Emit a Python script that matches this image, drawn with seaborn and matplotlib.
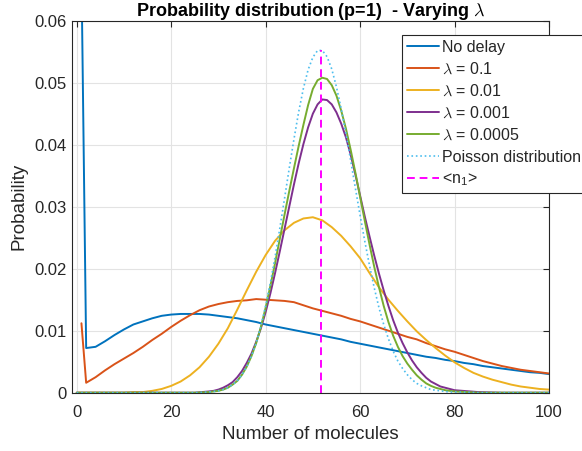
import numpy as np
import pandas as pd
import matplotlib
matplotlib.use("Agg")
import matplotlib.pyplot as plt
import seaborn as sns

# ---------------- data ----------------
# no delay / lambda = 0.1 : x = 1, 2, 4, 6, ..., 100
x_wide = [1, 2] + list(range(4, 101, 2))
p_nodelay = [0.068, 0.0072, 0.0074, 0.0083, 0.0093, 0.0102, 0.0110, 0.0115, 0.0120, 0.0124,
             0.0126, 0.0127, 0.0127, 0.0127, 0.0126, 0.0124, 0.0122, 0.0120, 0.0117, 0.0114,
             0.0110, 0.0107, 0.0104, 0.0101, 0.0098, 0.0095, 0.0092, 0.0089, 0.0086, 0.0082,
             0.0079, 0.0076, 0.0073, 0.0070, 0.0067, 0.0064, 0.0061, 0.0058, 0.0056, 0.0053,
             0.0051, 0.0048, 0.0046, 0.0043, 0.0041, 0.0039, 0.0037, 0.0035, 0.0033, 0.0032,
             0.0030]
p_lam01 = [0.0112, 0.0016, 0.0025, 0.0036, 0.0046, 0.0055, 0.0064, 0.0074, 0.0085, 0.0095,
           0.0106, 0.0116, 0.0125, 0.0133, 0.0139, 0.0143, 0.0146, 0.0148, 0.0149, 0.0151,
           0.0150, 0.0149, 0.0148, 0.0146, 0.0141, 0.0136, 0.0132, 0.0128, 0.0124, 0.0119,
           0.0115, 0.0110, 0.0105, 0.0100, 0.0095, 0.0090, 0.0086, 0.0080, 0.0075, 0.0070,
           0.0066, 0.0061, 0.0056, 0.0051, 0.0047, 0.0043, 0.0040, 0.0037, 0.0035, 0.0033,
           0.0031]

# lambda = 0.01 : x = 0, 2, ..., 100
x_even = list(range(0, 101, 2))
p_lam001 = [0, 0, 0, 0, 0, 0, 0.0001, 0.0001, 0.0003, 0.0006,
            0.0011, 0.0018, 0.0028, 0.0041, 0.0058, 0.0079, 0.0104, 0.0134, 0.0165, 0.0195,
            0.0222, 0.0245, 0.0262, 0.0274, 0.0281, 0.0283, 0.0278, 0.0267, 0.0253, 0.0236,
            0.0217, 0.0193, 0.0170, 0.0150, 0.0132, 0.0115, 0.0099, 0.0085, 0.0072, 0.0060,
            0.0049, 0.0040, 0.0032, 0.0026, 0.0021, 0.0017, 0.0013, 0.0010, 0.0008, 0.0006,
            0.0005]

# narrow curves : x = 0, 10, 20, 25, 28..80, 85, 90, 100
x_peak = [0, 10, 20, 25] + list(range(28, 81)) + [85, 90, 100]
p_lam0001 = [0, 0, 0, 0,
             0.0002, 0.0003, 0.0005, 0.0008, 0.0012, 0.0017, 0.0025, 0.0035, 0.0048, 0.0063,
             0.0082, 0.0104, 0.0130, 0.0160, 0.0193, 0.0228, 0.0264, 0.0300, 0.0336, 0.0370,
             0.0401, 0.0428, 0.0450, 0.0465, 0.0473, 0.0472, 0.0465, 0.0452, 0.0434, 0.0412,
             0.0384, 0.0352, 0.0318, 0.0284, 0.0252, 0.0221, 0.0192, 0.0165, 0.0140, 0.0117,
             0.0097, 0.0080, 0.0065, 0.0052, 0.0041, 0.0032, 0.0024, 0.0018, 0.0014, 0.0010,
             0.0008, 0.0006, 0.0004,
             0.0001, 0, 0]
p_lam00005 = [0, 0, 0, 0,
              0.0001, 0.0002, 0.0003, 0.0005, 0.0008, 0.0013, 0.0019, 0.0029, 0.0042, 0.0059,
              0.0080, 0.0106, 0.0137, 0.0172, 0.0209, 0.0248, 0.0287, 0.0325, 0.0362, 0.0398,
              0.0432, 0.0464, 0.0490, 0.0504, 0.0508, 0.0506, 0.0496, 0.0479, 0.0455, 0.0426,
              0.0392, 0.0355, 0.0316, 0.0277, 0.0239, 0.0203, 0.0170, 0.0140, 0.0114, 0.0092,
              0.0074, 0.0059, 0.0047, 0.0037, 0.0028, 0.0021, 0.0015, 0.0011, 0.0008, 0.0006,
              0.0004, 0.0003, 0.0002,
              0, 0, 0]
p_poisson = [0, 0, 0, 0,
             0.0001, 0.0002, 0.0003, 0.0005, 0.0008, 0.0013, 0.0019, 0.0029, 0.0042, 0.0059,
             0.0080, 0.0107, 0.0140, 0.0177, 0.0219, 0.0265, 0.0313, 0.0362, 0.0409, 0.0453,
             0.0491, 0.0521, 0.0541, 0.0552, 0.0552, 0.0542, 0.0522, 0.0493, 0.0458, 0.0418,
             0.0375, 0.0330, 0.0286, 0.0244, 0.0205, 0.0169, 0.0137, 0.0110, 0.0087, 0.0067,
             0.0051, 0.0039, 0.0029, 0.0021, 0.0015, 0.0011, 0.0008, 0.0005, 0.0004, 0.0003,
             0.0002, 0.0001, 0.0001,
             0, 0, 0]

n1_mean = 51.8

labels = ['No delay', r'$\lambda$ = 0.1', r'$\lambda$ = 0.01', r'$\lambda$ = 0.001',
          r'$\lambda$ = 0.0005', 'Poisson distribution', r'<n$\mathregular{_1}$>']
colors = ['#0072BD', '#D95319', '#EDB120', '#7E2F8E', '#77AC30', '#4DBEEE', '#FF00FF']

# ---------------- figure ----------------
sns.set_theme(style='whitegrid')
plt.rcParams['font.family'] = ['Liberation Sans', 'DejaVu Sans']
plt.rcParams['mathtext.fontset'] = 'cm'

fig = plt.figure(figsize=(5.82, 4.51), dpi=100)
ax = fig.add_axes([0.1237, 0.1293, 0.8196, 0.8248])

series = [(x_wide, p_nodelay), (x_wide, p_lam01), (x_even, p_lam001),
          (x_peak, p_lam0001), (x_peak, p_lam00005), (x_peak, p_poisson)]
for i, (xs, ys) in enumerate(series):
    df = pd.DataFrame({'n': xs, 'p': ys})
    sns.lineplot(data=df, x='n', y='p', ax=ax, color=colors[i], lw=1.4 if i < 5 else 1.2,
                 linestyle=':' if i == 5 else '-', label=labels[i], estimator=None, sort=False)

ax.plot([n1_mean, n1_mean], [0, max(p_poisson)], color=colors[6], lw=1.4,
        linestyle=(0, (4, 2.5)), label=labels[6])

ax.set_xlim(-1, 100)
ax.set_ylim(0, 0.06)
ax.set_xticks([0, 20, 40, 60, 80, 100])
ax.set_yticks([0, 0.01, 0.02, 0.03, 0.04, 0.05, 0.06])
ax.set_yticklabels(['0', '0.01', '0.02', '0.03', '0.04', '0.05', '0.06'])
ax.tick_params(axis='both', labelsize=12, colors='#262626', direction='in', length=4,
               width=0.8, top=True, right=True, pad=4)
ax.tick_params(axis='x', pad=9)
ax.grid(True, color='#E3E3E3', lw=0.8)
for s in ax.spines.values():
    s.set_color('#262626')
    s.set_linewidth(0.8)

ax.set_xlabel('Number of molecules', fontsize=13.5, color='#262626', labelpad=4)
ax.set_ylabel('Probability', fontsize=13.5, color='#262626', labelpad=5)
ax.set_title(r'Probability distribution (p=1)  - Varying $\lambda$', fontsize=13,
             fontweight='bold', color='black', pad=3.5)

leg = ax.legend(loc='upper left', bbox_to_anchor=(0.691, 0.923), bbox_transform=fig.transFigure,
                fontsize=11.5, frameon=True, fancybox=False, framealpha=1, edgecolor='#262626',
                handlelength=2.0, handletextpad=0.2, labelspacing=0.42, borderpad=0.3,
                borderaxespad=0)
leg.get_frame().set_linewidth(0.8)

fig.savefig('out.png', dpi=100)
